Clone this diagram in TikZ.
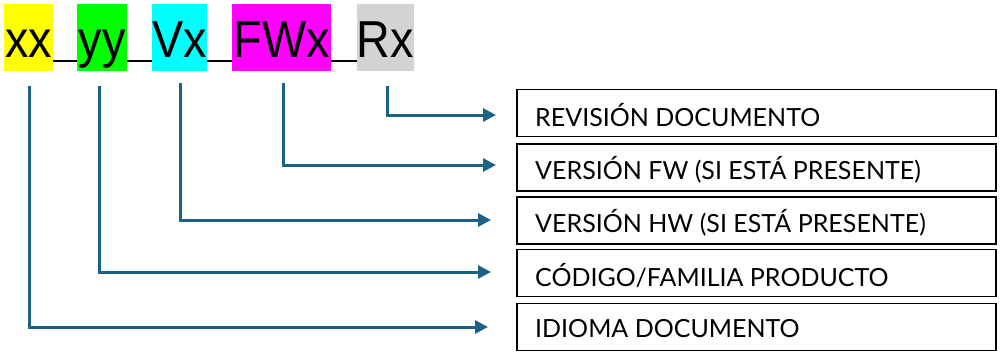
\documentclass[tikz,border=0pt]{standalone}
\usepackage{fontspec}
\setmainfont{Liberation Sans}
\newfontfamily\labfont{Lato}
\usetikzlibrary{arrows.meta}
\definecolor{arrowblue}{HTML}{1E6186}
\definecolor{ygold}{HTML}{FFFF00}
\definecolor{ggreen}{HTML}{00FF00}
\definecolor{ccyan}{HTML}{00FFFF}
\definecolor{mmag}{HTML}{FF00FF}
\definecolor{ggray}{HTML}{D3D3D3}
\begin{document}
\begin{tikzpicture}[x=1pt,y=-1pt,
  tok/.style={inner sep=0pt, font=\fontsize{52}{52}\selectfont},
  lab/.style={draw=black, line width=1.8pt, minimum width=479pt, minimum height=47pt, inner sep=0pt},
  labtext/.style={anchor=west, inner sep=0pt, font=\labfont\fontsize{25}{25}\selectfont},
  conn/.style={draw=arrowblue, line width=3pt, -{Triangle[length=13pt,width=13pt]}},
  us/.style={draw=black, line width=1.5pt}]
\useasboundingbox (0,0) rectangle (1004,356);
% token boxes
\fill[ygold] (4,4) rectangle (53,71);
\fill[ggreen] (77,4) rectangle (127,71);
\fill[ccyan] (152,4) rectangle (207,71);
\fill[mmag] (232,4) rectangle (331,71);
\fill[ggray] (357,4) rectangle (414,71);
\node[tok, anchor=base] (xx) at (28.5,57) {\scalebox{0.9}[1]{xx}};
\node[tok, anchor=base] (yy) at (102,57) {\scalebox{0.9}[1]{yy}};
\node[tok, anchor=base] (vx) at (179.5,57) {\scalebox{0.9}[1]{Vx}};
\node[tok, anchor=base] (fwx) at (281.5,57) {\scalebox{0.9}[1]{FWx}};
\node[tok, anchor=base] (rx) at (385.5,57) {\scalebox{0.9}[1]{Rx}};
% underscores
\draw[us] (53,61) -- (77,61);
\draw[us] (127,61) -- (152,61);
\draw[us] (207,61) -- (232,61);
\draw[us] (331,61) -- (357,61);
% label boxes
\node[lab] (b1) at (756.5,113) {};
\node[lab] (b2) at (756.5,167.5) {};
\node[lab] (b3) at (756.5,220.5) {};
\node[lab] (b4) at (756.5,273) {};
\node[lab] (b5) at (756.5,327) {};
\node[labtext] (t1) at (535,115) {REVISIÓN DOCUMENTO};
\node[labtext] (t2) at (535,170) {VERSIÓN FW (SI ESTÁ PRESENTE)};
\node[labtext] (t3) at (535,223) {VERSIÓN HW (SI ESTÁ PRESENTE)};
\node[labtext] (t4) at (535,275) {CÓDIGO/FAMILIA PRODUCTO};
\node[labtext] (t5) at (535,329) {IDIOMA DOCUMENTO};
% connector start points
\coordinate (s1) at (387,86);
\coordinate (s2) at (283,83);
\coordinate (s3) at (180,83);
\coordinate (s4) at (99,86);
\coordinate (s5) at (29,86);
\coordinate (e1) at (496,115);
\coordinate (e2) at (496,165);
\coordinate (e3) at (491,220);
\coordinate (e4) at (491,272);
\coordinate (e5) at (488,327);
\draw[conn] (s1) |- (e1);
\draw[conn] (s2) |- (e2);
\draw[conn] (s3) |- (e3);
\draw[conn] (s4) |- (e4);
\draw[conn] (s5) |- (e5);
\end{tikzpicture}
\end{document}
